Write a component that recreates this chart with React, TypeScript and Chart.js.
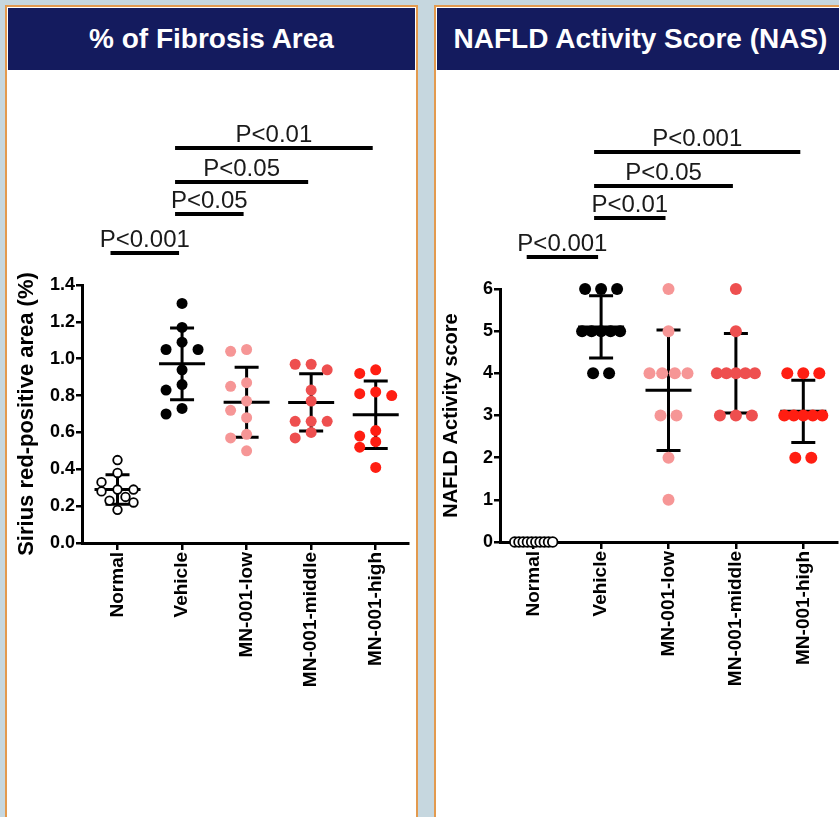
import React, { useEffect, useRef } from 'react';
import { Chart, registerables } from 'chart.js';
Chart.register(...registerables);

// ---------- data ----------
const categories = ['Normal', 'Vehicle', 'MN-001-low', 'MN-001-middle', 'MN-001-high'];

const fibrosisNormal = [0.45, 0.38, 0.33, 0.29, 0.29, 0.28, 0.25, 0.23, 0.22, 0.18];
const fibrosisVehicle = [1.30, 1.17, 1.09, 1.05, 1.05, 0.94, 0.86, 0.83, 0.73, 0.70];
const fibrosisLow = [1.05, 1.04, 0.87, 0.85, 0.77, 0.72, 0.68, 0.59, 0.57, 0.50];
const fibrosisMiddle = [0.97, 0.97, 0.94, 0.83, 0.77, 0.66, 0.66, 0.66, 0.60, 0.57];
const fibrosisHigh = [0.94, 0.92, 0.82, 0.81, 0.80, 0.61, 0.58, 0.55, 0.52, 0.41];

const nasNormal = [0, 0, 0, 0, 0, 0, 0, 0, 0, 0];
const nasVehicle = [6, 6, 6, 5, 5, 5, 5, 5, 4, 4];
const nasLow = [6, 5, 4, 4, 4, 4, 3, 3, 2, 1];
const nasMiddle = [6, 5, 4, 4, 4, 4, 4, 3, 3, 3];
const nasHigh = [4, 4, 4, 3, 3, 3, 3, 3, 2, 2];

const fibrosisTicks = [0, 0.2, 0.4, 0.6, 0.8, 1.0, 1.2, 1.4];
const nasTicks = [0, 1, 2, 3, 4, 5, 6];

const fibrosisComparisons = [
  { from: 0, to: 1, label: 'P<0.001' },
  { from: 1, to: 2, label: 'P<0.05' },
  { from: 1, to: 3, label: 'P<0.05' },
  { from: 1, to: 4, label: 'P<0.01' },
];
const nasComparisons = [
  { from: 0, to: 1, label: 'P<0.001' },
  { from: 1, to: 2, label: 'P<0.01' },
  { from: 1, to: 3, label: 'P<0.05' },
  { from: 1, to: 4, label: 'P<0.001' },
];

// ---------- styles ----------
const FONT = '"Liberation Sans", Arial, Helvetica, sans-serif';
const groupStyles = [
  { fill: '#FFFFFF', border: '#000000', bw: 1.8, hollow: true },
  { fill: '#000000', border: '#000000', bw: 0, hollow: false },
  { fill: '#F69696', border: '#F69696', bw: 0, hollow: false },
  { fill: '#EE4F4F', border: '#EE4F4F', bw: 0, hollow: false },
  { fill: '#FF1E12', border: '#FF1E12', bw: 0, hollow: false },
];
const bracketGaps = [32, 71, 103, 137];

function meanSd(vals: number[]) {
  const m = vals.reduce((a, b) => a + b, 0) / vals.length;
  const v = vals.reduce((a, b) => a + (b - m) * (b - m), 0) / (vals.length - 1);
  return { m, sd: Math.sqrt(v) };
}

function swarm(vals: number[], toPx: (v: number) => number, slot: number, maxHalf: number, diam: number) {
  const order = vals.map((_, i) => i).sort((a, b) => vals[b] - vals[a]);
  const placed: { x: number; y: number }[] = [];
  const res = new Array(vals.length).fill(0);
  const full = [0];
  for (let k = 1; k * slot <= maxHalf + 0.01; k++) full.push(-k * slot, k * slot);
  const half = [0];
  for (let k = 1; (k * slot) / 2 <= maxHalf + 0.01; k++) half.push((-k * slot) / 2, (k * slot) / 2);
  const minDist = (x: number, y: number) =>
    placed.reduce((m, p) => Math.min(m, Math.hypot(p.x - x, p.y - y)), Infinity);
  for (const i of order) {
    const y = toPx(vals[i]);
    let best: any = full.find((x) => minDist(x, y) >= diam);
    if (best === undefined) {
      let bd = -1;
      best = 0;
      for (const x of half) {
        const d = minDist(x, y);
        if (d > bd + 1e-6) {
          bd = d;
          best = x;
        }
      }
    }
    res[i] = best;
    placed.push({ x: best, y });
  }
  return res;
}

function tieOffsets(vals: number[], slot: number, maxHalf: number) {
  const res = new Array(vals.length).fill(0);
  const groups = new Map<number, number[]>();
  vals.forEach((v, i) => {
    if (!groups.has(v)) groups.set(v, []);
    groups.get(v)!.push(i);
  });
  groups.forEach((idx) => {
    const n = idx.length;
    const sp = n > 1 ? Math.min(slot, (2 * maxHalf) / (n - 1)) : 0;
    idx.forEach((i, k) => {
      res[i] = (k - (n - 1) / 2) * sp;
    });
  });
  return res;
}

type Cfg = {
  groups: number[][];
  ticks: number[];
  yMax: number;
  fmt: (v: number) => string;
  title: string;
  titleSize: number;
  titlePad: number;
  comparisons: { from: number; to: number; label: string }[];
  padTop: number;
  xHeight: number;
  yWidth: number;
  xMin: number;
  mode: 'swarm' | 'ties';
  radius: number;
};

function ScatterChart({ cfg }: { cfg: Cfg }) {
  const ref = useRef<HTMLCanvasElement | null>(null);
  useEffect(() => {
    if (!ref.current) return;
    const errorBars = {
      id: 'errorBars',
      beforeDatasetsDraw(chart: any) {
        const { ctx } = chart;
        const xs = chart.scales.x;
        const ys = chart.scales.y;
        ctx.save();
        ctx.strokeStyle = '#000';
        ctx.lineWidth = 3;
        ctx.lineCap = 'butt';
        cfg.groups.forEach((vals, gi) => {
          const { m, sd } = meanSd(vals);
          const cx = xs.getPixelForValue(gi);
          const yt = ys.getPixelForValue(m + sd);
          const yb = ys.getPixelForValue(m - sd);
          const ym = ys.getPixelForValue(m);
          ctx.beginPath();
          ctx.moveTo(cx, yt);
          ctx.lineTo(cx, yb);
          ctx.moveTo(cx - 12, yt);
          ctx.lineTo(cx + 12, yt);
          ctx.moveTo(cx - 12, yb);
          ctx.lineTo(cx + 12, yb);
          ctx.moveTo(cx - 23, ym);
          ctx.lineTo(cx + 23, ym);
          ctx.stroke();
        });
        ctx.restore();
      },
    };
    const brackets = {
      id: 'brackets',
      afterDraw(chart: any) {
        const { ctx, chartArea } = chart;
        const xs = chart.scales.x;
        ctx.save();
        ctx.strokeStyle = '#000';
        ctx.lineWidth = 4;
        ctx.fillStyle = '#1a1a1a';
        ctx.font = `24px ${FONT}`;
        ctx.textAlign = 'center';
        ctx.textBaseline = 'alphabetic';
        cfg.comparisons.forEach((c, k) => {
          const y = chartArea.top - bracketGaps[k];
          const x1 = xs.getPixelForValue(c.from) - 7;
          const x2 = xs.getPixelForValue(c.to) - 3;
          ctx.beginPath();
          ctx.moveTo(x1, y);
          ctx.lineTo(x2, y);
          ctx.stroke();
          ctx.fillText(c.label, (x1 + x2) / 2, y - 6);
        });
        ctx.restore();
      },
    };

    const chart = new Chart(ref.current, {
      type: 'scatter',
      data: {
        datasets: cfg.groups.map((vals, gi) => ({
          label: categories[gi],
          data: vals.map((v) => ({ x: gi, y: v })),
          pointRadius: cfg.radius - (groupStyles[gi].hollow ? 1.2 : 0),
          pointBackgroundColor: groupStyles[gi].fill,
          pointBorderColor: groupStyles[gi].border,
          pointBorderWidth: groupStyles[gi].bw,
          showLine: false,
          clip: false as any,
        })),
      },
      options: {
        animation: false,
        responsive: true,
        maintainAspectRatio: false,
        events: [],
        layout: { padding: { top: cfg.padTop, right: 8, left: 0, bottom: 0 } },
        plugins: { legend: { display: false }, tooltip: { enabled: false } },
        scales: {
          x: {
            type: 'linear',
            min: cfg.xMin,
            max: 4.5,
            afterBuildTicks: (s: any) => {
              s.ticks = categories.map((_, i) => ({ value: i }));
            },
            afterFit: (s: any) => {
              s.height = cfg.xHeight;
            },
            ticks: {
              autoSkip: false,
              minRotation: 90,
              maxRotation: 90,
              padding: 2,
              color: '#000',
              font: { family: FONT, size: 19, weight: 'bold' },
              callback: (v: any) => categories[v] ?? '',
            },
            grid: { drawOnChartArea: false, drawTicks: true, tickLength: 7, color: '#000', lineWidth: 2.5 },
            border: { display: true, color: '#000', width: 3 },
          },
          y: {
            type: 'linear',
            min: 0,
            max: cfg.yMax,
            afterBuildTicks: (s: any) => {
              s.ticks = cfg.ticks.map((v) => ({ value: v }));
            },
            afterFit: (s: any) => {
              s.width = cfg.yWidth;
            },
            ticks: {
              autoSkip: false,
              padding: 1,
              color: '#000',
              font: { family: FONT, size: 18, weight: 'bold' },
              callback: (v: any) => cfg.fmt(Number(v)),
            },
            grid: { drawOnChartArea: false, drawTicks: true, tickLength: 6, color: '#000', lineWidth: 2.5 },
            border: { display: true, color: '#000', width: 3 },
            title: {
              display: true,
              text: cfg.title,
              color: '#000',
              font: { family: FONT, size: cfg.titleSize, weight: 'bold' },
              padding: { top: cfg.titlePad, bottom: 0 },
            },
          },
        },
      } as any,
      plugins: [errorBars, brackets],
    });

    // arrange points horizontally (scatter dot plot) from the values
    const xs: any = chart.scales.x;
    const ys: any = chart.scales.y;
    const unitPx = xs.getPixelForValue(1) - xs.getPixelForValue(0);
    cfg.groups.forEach((vals, gi) => {
      const offs =
        cfg.mode === 'ties'
          ? tieOffsets(vals, 16, 19)
          : swarm(vals, (v) => ys.getPixelForValue(v), 16, 16, groupStyles[gi].hollow ? 10 : 11);
      (chart.data.datasets[gi] as any).data = vals.map((v, k) => ({ x: gi + offs[k] / unitPx, y: v }));
    });
    chart.update('none');

    return () => chart.destroy();
  }, [cfg]);
  return <canvas ref={ref} />;
}

const fibrosisCfg: Cfg = {
  groups: [fibrosisNormal, fibrosisVehicle, fibrosisLow, fibrosisMiddle, fibrosisHigh],
  ticks: fibrosisTicks,
  yMax: 1.4,
  fmt: (v) => v.toFixed(1),
  title: 'Sirius red-positive area (%)',
  titleSize: 22,
  titlePad: 7,
  comparisons: fibrosisComparisons,
  padTop: 213,
  xHeight: 274,
  yWidth: 75,
  xMin: -0.55,
  mode: 'swarm',
  radius: 5.5,
};

const nasCfg: Cfg = {
  groups: [nasNormal, nasVehicle, nasLow, nasMiddle, nasHigh],
  ticks: nasTicks,
  yMax: 6,
  fmt: (v) => String(v),
  title: 'NAFLD Activity score',
  titleSize: 20,
  titlePad: 3,
  comparisons: nasComparisons,
  padTop: 217,
  xHeight: 275,
  yWidth: 64,
  xMin: -0.5,
  mode: 'ties',
  radius: 6,
};

function Panel({ left, title, cfg }: { left: number; title: string; cfg: Cfg }) {
  return (
    <div
      style={{
        position: 'absolute',
        left,
        top: 5,
        width: 413,
        height: 830,
        boxSizing: 'border-box',
        border: '2px solid #E39A4E',
        borderBottom: 'none',
        background: '#FFFFFF',
      }}
    >
      <div
        style={{
          position: 'absolute',
          left: 1,
          top: 1,
          right: 1,
          height: 62,
          background: '#141B5E',
          color: '#FFFFFF',
          fontFamily: FONT,
          fontWeight: 'bold',
          fontSize: 28,
          display: 'flex',
          alignItems: 'center',
          justifyContent: 'center',
          whiteSpace: 'nowrap',
        }}
      >
        {title}
      </div>
      <div style={{ position: 'absolute', left: 0, top: 65, width: 409, height: 745 }}>
        <ScatterChart cfg={cfg} />
      </div>
    </div>
  );
}

export default function App() {
  return (
    <div
      style={{
        position: 'fixed',
        left: 0,
        top: 0,
        width: 839,
        height: 817,
        overflow: 'hidden',
        background: '#C6D7DF',
      }}
    >
      <Panel left={5} title="% of Fibrosis Area" cfg={fibrosisCfg} />
      <Panel left={434} title="NAFLD Activity Score (NAS)" cfg={nasCfg} />
    </div>
  );
}
